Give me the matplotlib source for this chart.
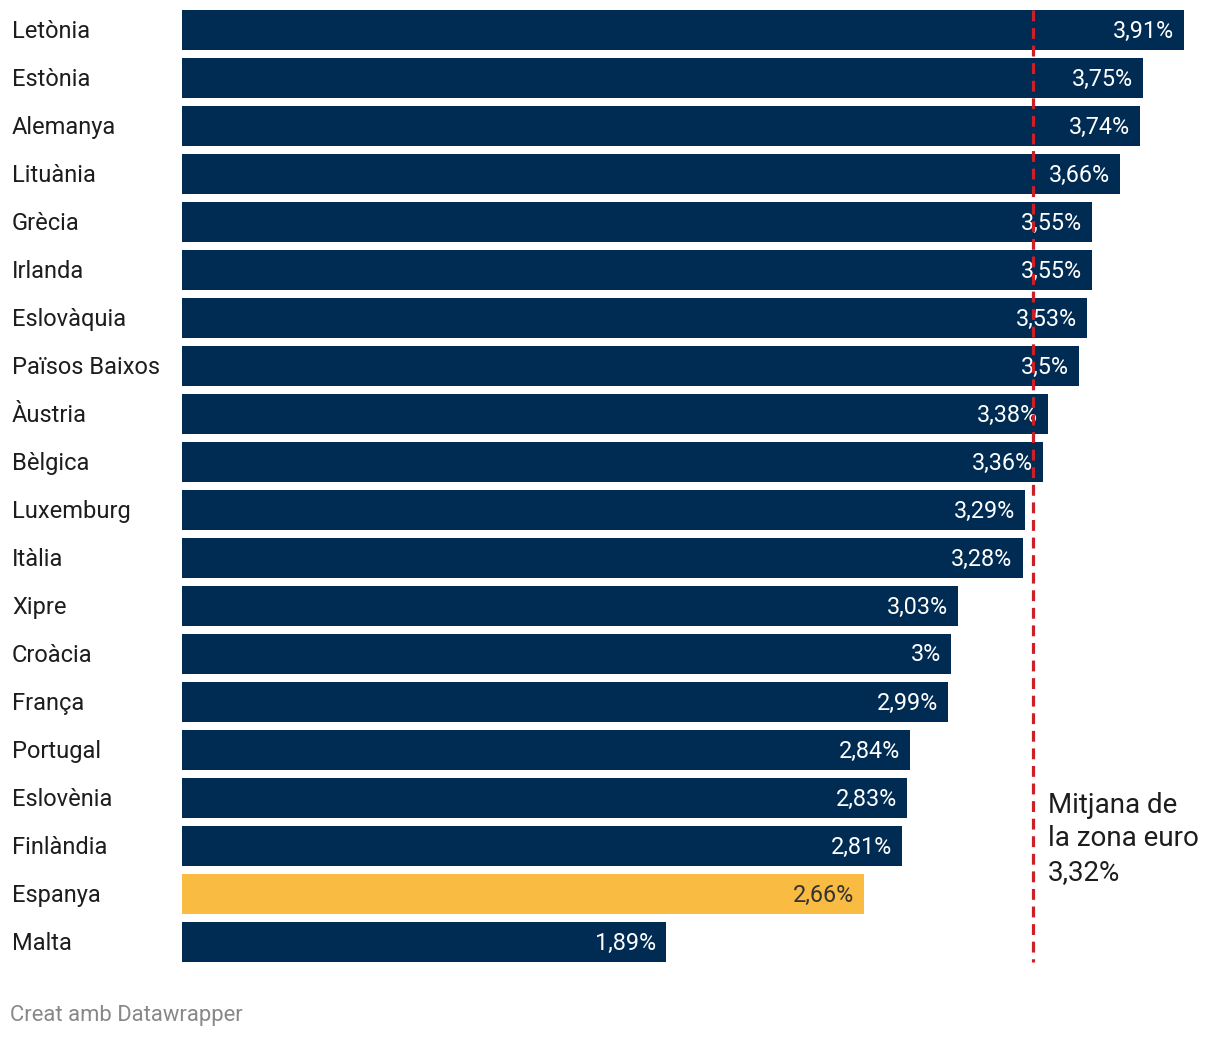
import matplotlib
matplotlib.use("Agg")
import matplotlib.pyplot as plt

countries = ["Letònia", "Estònia", "Alemanya", "Lituània", "Grècia", "Irlanda",
             "Eslovàquia", "Països Baixos", "Àustria", "Bèlgica", "Luxemburg",
             "Itàlia", "Xipre", "Croàcia", "França", "Portugal", "Eslovènia",
             "Finlàndia", "Espanya", "Malta"]
values = [3.91, 3.75, 3.74, 3.66, 3.55, 3.55, 3.53, 3.5, 3.38, 3.36, 3.29,
          3.28, 3.03, 3.0, 2.99, 2.84, 2.83, 2.81, 2.66, 1.89]
value_labels = ["3,91%", "3,75%", "3,74%", "3,66%", "3,55%", "3,55%", "3,53%",
                "3,5%", "3,38%", "3,36%", "3,29%", "3,28%", "3,03%", "3%",
                "2,99%", "2,84%", "2,83%", "2,81%", "2,66%", "1,89%"]
highlight = "Espanya"
euro_avg = 3.32
avg_label = "Mitjana de\nla zona euro\n3,32%"

plt.rcParams["font.family"] = ["Roboto", "DejaVu Sans"]

W, H = 1220, 1038
fig = plt.figure(figsize=(W / 100, H / 100), dpi=100)

# axes placed in pixels: bars from x=182, 3.91 reaches x=1184; y from 10 to 962
left, right, top, bottom = 182, 1184, 10, 962
ax = fig.add_axes([left / W, 1 - bottom / H, (right - left) / W, (bottom - top) / H])
ax.set_xlim(0, max(values))
ax.set_ylim(19 + 20 / 48, -20 / 48)
ax.axis("off")

navy = "#002b52"
yellow = "#f9bb42"
n = len(countries)
for i in range(n):
    c = yellow if countries[i] == highlight else navy
    ax.barh(i, values[i], height=40 / 48, color=c, zorder=1)
    tc = "#333333" if countries[i] == highlight else "white"
    ax.annotate(value_labels[i], (values[i], i), xytext=(-10, -1),
                textcoords="offset pixels", ha="right", va="center",
                fontsize=16.8, color=tc, zorder=2)
    fig.text(12 / W, 1 - (31.5 + 48 * i) / H, countries[i], ha="left",
             va="center", fontsize=17, color="#1d1d1d")

ax.plot([euro_avg, euro_avg], [-20 / 48, 19 + 20 / 48], color="#cc1f27",
        linewidth=2.3, linestyle=(0, (3.4, 2.1)), zorder=3, clip_on=False)
ax.annotate(avg_label, (euro_avg, 16.85), xytext=(15, 0), textcoords="offset pixels",
            ha="left", va="center", fontsize=20, color="#1d1d1d",
            linespacing=1.3)

fig.text(10 / W, 1 - 1015 / H, "Creat amb Datawrapper", ha="left", va="center",
         fontsize=15.8, color="#888888")

fig.savefig("out.png", dpi=100, facecolor="white")
